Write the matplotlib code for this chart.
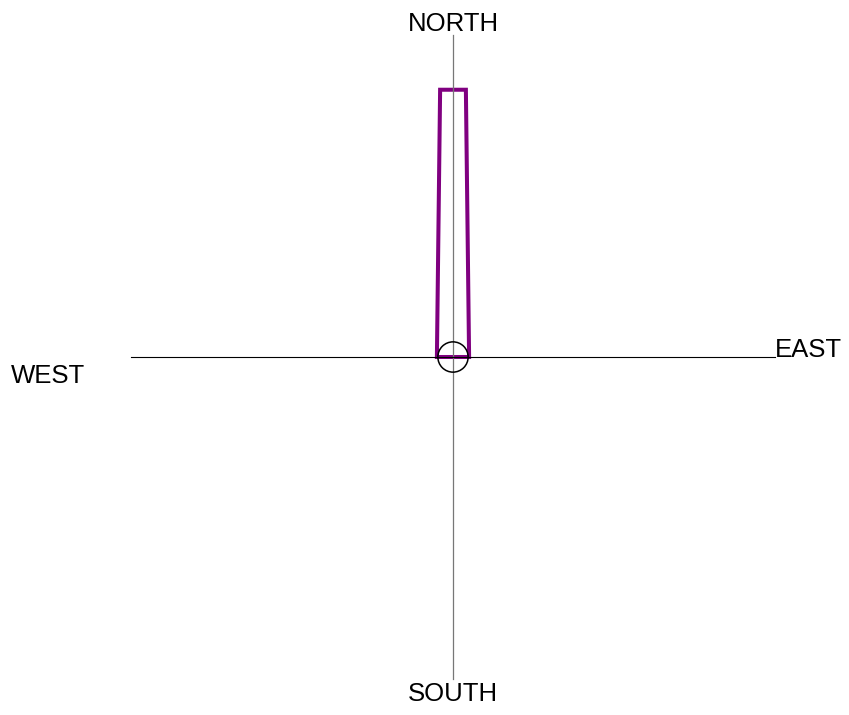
import numpy as np
import matplotlib.pyplot as plt
from matplotlib.patches import Polygon, Circle

# direccion (grados desde el norte) y magnitud de la barra
directions = [0]
magnitudes = [0.83]
labels = ["NORTH", "EAST", "SOUTH", "WEST"]

base_half = 0.05
top_half = 0.04
hub_radius = 0.047

W, H = 849, 715
cx, cy = 453, 357
s = 322.0

fig = plt.figure(figsize=(W / 100, H / 100), dpi=100)
ax = fig.add_axes([0, 0, 1, 1])
ax.set_xlim(-cx / s, (W - cx) / s)
ax.set_ylim(-(H - cy) / s, cy / s)
ax.set_aspect("equal")
ax.axis("off")

for d, m in zip(directions, magnitudes):
    t = np.deg2rad(d)
    u = np.array([np.sin(t), np.cos(t)])
    p = np.array([np.cos(t), -np.sin(t)])
    pts = [-p * base_half, u * m - p * top_half, u * m + p * top_half, p * base_half]
    ax.add_patch(Polygon(pts, closed=True, fill=False, edgecolor="#800080",
                         linewidth=2.9, joinstyle="miter", zorder=1))

ax.plot([0, 0], [-1.0, 1.0], color="#777777", linewidth=0.9, zorder=2)
ax.plot([-1.0, 1.0], [0, 0], color="black", linewidth=0.8, zorder=2)
ax.add_patch(Circle((0, 0), hub_radius, fill=False, edgecolor="black",
                    linewidth=1.1, zorder=3))

fs = 18.5
ax.text(0, 1.033, labels[0], ha="center", va="center", fontsize=fs, family="Liberation Sans")
ax.text(1.0, 0.022, labels[1], ha="left", va="center", fontsize=fs, family="Liberation Sans")
ax.text(0, -1.048, labels[2], ha="center", va="center", fontsize=fs, family="Liberation Sans")
ax.text(-1.373, -0.06, labels[3], ha="left", va="center", fontsize=fs, family="Liberation Sans")

fig.savefig("out.png", dpi=100)
